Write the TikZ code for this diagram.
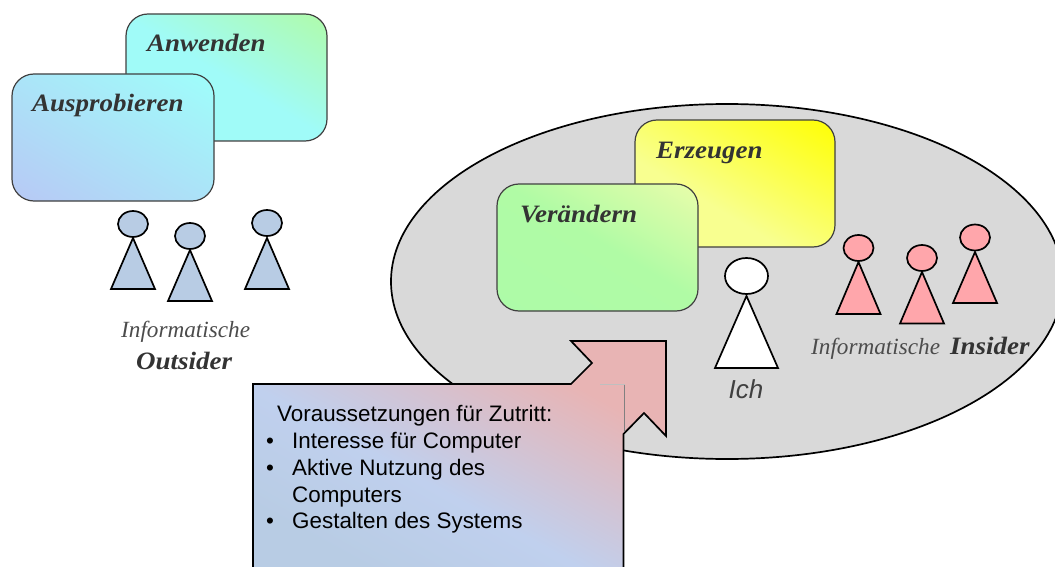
\documentclass[tikz,border=0pt]{standalone}
\usepackage{fontspec}
\setmainfont{Liberation Serif}
\setsansfont{Liberation Sans}
\newfontfamily\cardfont[FakeStretch=1.08]{Liberation Serif}
\definecolor{inkdark}{HTML}{333333}
\definecolor{ringgray}{HTML}{D9D9D9}
\definecolor{outblue}{HTML}{B8CCE4}
\definecolor{inpink}{HTML}{FFA6AB}
\definecolor{A1}{HTML}{A0FBF8}
\definecolor{A3}{HTML}{B0FBA8}
\definecolor{B1}{HTML}{B8C8F5}
\definecolor{B3}{HTML}{A0FBFA}
\definecolor{C1}{HTML}{F8FF90}
\definecolor{C3}{HTML}{FFFF00}
\definecolor{D1}{HTML}{ADFBA8}
\definecolor{D2}{HTML}{B0FBA5}
\definecolor{D3}{HTML}{EAFDAA}
\definecolor{E1}{HTML}{B8CCE4}
\definecolor{E2}{HTML}{C0D0EE}
\definecolor{E3}{HTML}{E8B4B4}
\pgfdeclareverticalshading{shadeA}{100bp}{color(0bp)=(A1); color(50bp)=(A1); color(85bp)=(A3); color(100bp)=(A3)}
\pgfdeclareverticalshading{shadeB}{100bp}{color(0bp)=(B1); color(15bp)=(B1); color(80bp)=(B3); color(100bp)=(B3)}
\pgfdeclareverticalshading{shadeC}{100bp}{color(0bp)=(C1); color(40bp)=(C1); color(85bp)=(C3); color(100bp)=(C3)}
\pgfdeclareverticalshading{shadeD}{100bp}{color(0bp)=(D1); color(15bp)=(D1); color(52bp)=(D2); color(85bp)=(D3); color(100bp)=(D3)}
\pgfdeclareverticalshading{shadeE}{100bp}{color(0bp)=(E1); color(25bp)=(E1); color(43bp)=(E2); color(70bp)=(E3); color(100bp)=(E3)}
\tikzset{
  x=1pt,y=-1pt,
  card/.style={draw=black!75,line width=1.2pt,rounded corners=22pt,shading angle=-31},
  fig/.style={draw=black,line width=1.7pt,line join=miter},
  cardtitle/.style={anchor=base west,inner sep=0pt,text=inkdark,font=\cardfont\fontsize{25}{28}\selectfont\bfseries\itshape},
  infotext/.style={anchor=base west,inner sep=0pt,text=black!70,font=\fontsize{23.2}{26}\selectfont\itshape},
  groupname/.style={anchor=base west,inner sep=0pt,text=inkdark,font=\cardfont\fontsize{25}{28}\selectfont\bfseries\itshape},
  calltext/.style={anchor=base west,inner sep=0pt,text=black,font=\sffamily\fontsize{22.4}{26}\selectfont},
}
\newcommand{\person}[8]{% head x,y, rx, ry, apex y, base y, half width, fill
  \draw[fig,fill=#8] (#1-#7,#6) -- (#1,#5) -- (#1+#7,#6) -- cycle;
  \draw[fig,fill=#8] (#1,#2) ellipse [x radius=#3,y radius=#4];
}
\begin{document}
\begin{tikzpicture}
\useasboundingbox (0,0) rectangle (1055,567);
% big ellipse
\begin{scope}
\clip (0,0) rectangle (1055,567);
\draw[black,line width=1.7pt,fill=ringgray] (727,281.5) ellipse [x radius=336,y radius=177.5];
\end{scope}
% cards
\shade[card,shading=shadeA] (126,14) rectangle (327,141);
\shade[card,shading=shadeB] (12,74) rectangle (214,201);
\shade[card,shading=shadeC] (635,120) rectangle (835,247);
\shade[card,shading=shadeD] (497,184) rectangle (698,311);
\node[cardtitle] (anwenden) at (147,52) {Anwenden};
\node[cardtitle] (auspro) at (32,112) {Ausprobieren};
\node[cardtitle] (erzeugen) at (656,158) {Erzeugen};
\node[cardtitle] (veraendern) at (520,222) {Verändern};
% outsiders
\person{133}{224}{15}{13}{238}{289}{22}{outblue}
\person{190}{236}{15}{13}{250}{301}{22}{outblue}
\person{267}{223}{15}{13}{238}{289}{22}{outblue}
\node[infotext] (info1) at (121,337) {Informatische};
\node[groupname] (outsider) at (136,369) {Outsider};
% insiders
\person{858.5}{248}{15}{13}{262}{314}{22}{inpink}
\person{922}{258}{15}{13}{272}{323.5}{22}{inpink}
\person{975}{237.5}{15}{13}{252}{303}{22}{inpink}
\node[infotext] (info2) at (811,354) {Informatische};
\node[groupname] (insider) at (950,354) {Insider};
% ich
\person{746.5}{276}{21.5}{18}{296}{368}{31.5}{white}
\node[anchor=base,inner sep=0pt,text=black!75,font=\sffamily\itshape\fontsize{26}{30}\selectfont] (ich) at (746,398) {Ich};
% callout
\shade[draw=black,line width=1.7pt,line join=miter,shading=shadeE,shading angle=-29]
  (253,567) -- (253,384) -- (571,384) -- (592,363) -- (571,341) -- (666,341) -- (666,436) -- (644,413) -- (623.5,434) -- (623.5,567);
\draw[black!25,line width=0.4pt] (600,384.5) -- (624.5,384.5);
\draw[black!50,line width=0.5pt] (624.5,384.5) -- (624.5,432);
\node[calltext] (t0) at (277,421) {Voraussetzungen für Zutritt:};
\node[calltext] (b1) at (266,448) {•};
\node[calltext] (t1) at (292,448) {Interesse für Computer};
\node[calltext] (b2) at (266,475) {•};
\node[calltext] (t2) at (292,475) {Aktive Nutzung des};
\node[calltext] (t3) at (292,502) {Computers};
\node[calltext] (b3) at (266,528) {•};
\node[calltext] (t4) at (292,528) {Gestalten des Systems};
\end{tikzpicture}
\end{document}
